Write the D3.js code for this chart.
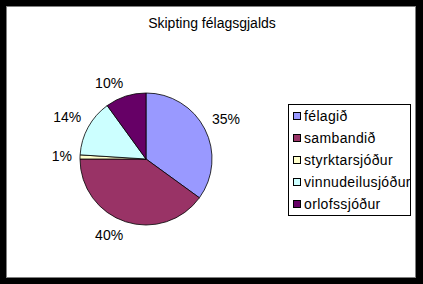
<!DOCTYPE html>
<html lang="is">
<head>
<meta charset="UTF-8">
<title>Skipting félagsgjalds</title>
<script src="https://cdn.jsdelivr.net/npm/d3@7"></script>
<style>
  body { margin: 0; padding: 0; background: #000; overflow: hidden; }
  svg { display: block; }
  text { font-family: "Liberation Sans", Arial, sans-serif; font-size: 14px; fill: #000; }
  .legend text { letter-spacing: 0.35px; }
</style>
</head>
<body>
<svg id="chart" width="423" height="284"></svg>
<script>
// gögn
const categories = ["félagið", "sambandið", "styrktarsjóður", "vinnudeilusjóður", "orlofssjóður"];
const values = [35, 40, 1, 14, 10];
const labels = ["35%", "40%", "1%", "14%", "10%"];
const colors = ["#9999ff", "#993366", "#ffffcc", "#ccffff", "#660066"];

const svg = d3.select("#chart");

// hvítur rammi
svg.append("rect")
    .attr("x", 6.5).attr("y", 6.5)
    .attr("width", 409).attr("height", 271)
    .attr("fill", "#fff")
    .attr("stroke", "#808080");

svg.append("text")
    .attr("x", 212).attr("y", 28)
    .attr("text-anchor", "middle")
    .text("Skipting félagsgjalds");

const cx = 146, cy = 159, r = 66;

const pie = d3.pie().sort(null).value(d => d)(values);
const arc = d3.arc().innerRadius(0).outerRadius(r);
const labelArc = d3.arc().innerRadius(r + 8).outerRadius(r + 8);

const g = svg.append("g").attr("transform", `translate(${cx},${cy})`);

g.selectAll("path")
    .data(pie)
    .enter().append("path")
    .attr("d", arc)
    .attr("fill", (d, i) => colors[i])
    .attr("stroke", "#000")
    .attr("stroke-width", 0.8);

g.selectAll("text")
    .data(pie)
    .enter().append("text")
    .attr("x", d => labelArc.centroid(d)[0])
    .attr("y", d => {
        const a = (d.startAngle + d.endAngle) / 2;
        const k = Math.max(-1, Math.min(1, Math.cos(a) * 3));
        return labelArc.centroid(d)[1] - 6 * k;
    })
    .attr("dy", "0.36em")
    .attr("text-anchor", d => Math.sin((d.startAngle + d.endAngle) / 2) >= 0 ? "start" : "end")
    .text((d, i) => labels[i]);

// skýringar
const legend = svg.append("g").attr("class", "legend");
legend.append("rect")
    .attr("x", 288.5).attr("y", 104.5)
    .attr("width", 122).attr("height", 111)
    .attr("fill", "#fff")
    .attr("stroke", "#000");

const ly = d3.scaleBand().domain(categories).range([104.5, 215.5]);

const item = legend.selectAll("g.item")
    .data(categories)
    .enter().append("g")
    .attr("class", "item")
    .attr("transform", d => `translate(293,${Math.round(ly(d) + ly.bandwidth() / 2)})`);

item.append("rect")
    .attr("x", 0.5).attr("y", -3.5)
    .attr("width", 7).attr("height", 7)
    .attr("fill", (d, i) => colors[i])
    .attr("stroke", "#000");

item.append("text")
    .attr("x", 11).attr("y", 0)
    .attr("dy", "0.36em")
    .text(d => d);
</script>
</body>
</html>
